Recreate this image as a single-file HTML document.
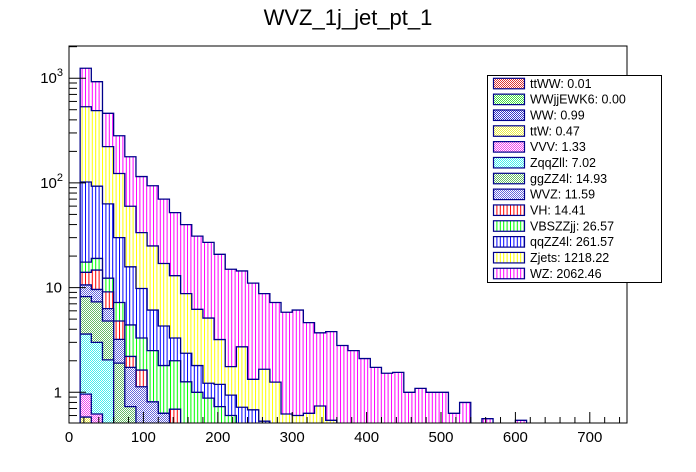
<!DOCTYPE html>
<html><head><meta charset="utf-8"><style>
html,body{margin:0;padding:0;background:#fff;}
svg{display:block;font-family:"Liberation Sans",Arial,sans-serif;}
</style></head><body>
<svg id="chart" width="696" height="472" viewBox="0 0 696 472" xmlns="http://www.w3.org/2000/svg">
<defs>
  <pattern id="vh-WZ" width="3.4" height="4" patternUnits="userSpaceOnUse"><rect width="3.4" height="4" fill="#fff"/><rect x="0" width="1" height="4" fill="#ff00ff"/></pattern>
  <pattern id="vh-Zjets" width="3.4" height="4" patternUnits="userSpaceOnUse"><rect width="3.4" height="4" fill="#fff"/><rect x="0" width="1" height="4" fill="#ffff00"/></pattern>
  <pattern id="vh-qqZZ4l" width="3.4" height="4" patternUnits="userSpaceOnUse"><rect width="3.4" height="4" fill="#fff"/><rect x="0" width="1" height="4" fill="#0000ff"/></pattern>
  <pattern id="vh-VBSZZjj" width="3.4" height="4" patternUnits="userSpaceOnUse"><rect width="3.4" height="4" fill="#fff"/><rect x="0" width="1" height="4" fill="#00ff00"/></pattern>
  <pattern id="vh-VH" width="3.4" height="4" patternUnits="userSpaceOnUse"><rect width="3.4" height="4" fill="#fff"/><rect x="0" width="1" height="4" fill="#ff0000"/></pattern>
  <pattern id="ck-WVZ" width="2" height="2" patternUnits="userSpaceOnUse"><rect width="2" height="2" fill="#fff"/><rect width="1" height="1" fill="#6666dd"/><rect x="1" y="1" width="1" height="1" fill="#6666dd"/></pattern>
  <pattern id="ck-ggZZ4l" width="2" height="2" patternUnits="userSpaceOnUse"><rect width="2" height="2" fill="#fff"/><rect width="1" height="1" fill="#66bb66"/><rect x="1" y="1" width="1" height="1" fill="#66bb66"/></pattern>
  <pattern id="ck-ZqqZll" width="2" height="2" patternUnits="userSpaceOnUse"><rect width="2" height="2" fill="#fff"/><rect width="1" height="1" fill="#44eeee"/><rect x="1" y="1" width="1" height="1" fill="#44eeee"/></pattern>
  <pattern id="ck-VVV" width="2" height="2" patternUnits="userSpaceOnUse"><rect width="2" height="2" fill="#fff"/><rect width="1" height="1" fill="#ee44ee"/><rect x="1" y="1" width="1" height="1" fill="#ee44ee"/></pattern>
  <pattern id="ck-ttW" width="2" height="2" patternUnits="userSpaceOnUse"><rect width="2" height="2" fill="#fff"/><rect width="1" height="1" fill="#eeee44"/><rect x="1" y="1" width="1" height="1" fill="#eeee44"/></pattern>
  <pattern id="ck-WW" width="2" height="2" patternUnits="userSpaceOnUse"><rect width="2" height="2" fill="#fff"/><rect width="1" height="1" fill="#3333cc"/><rect x="1" y="1" width="1" height="1" fill="#3333cc"/></pattern>
  <pattern id="ck-WWjjEWK6" width="2" height="2" patternUnits="userSpaceOnUse"><rect width="2" height="2" fill="#fff"/><rect width="1" height="1" fill="#44dd44"/><rect x="1" y="1" width="1" height="1" fill="#44dd44"/></pattern>
  <pattern id="ck-ttWW" width="2" height="2" patternUnits="userSpaceOnUse"><rect width="2" height="2" fill="#fff"/><rect width="1" height="1" fill="#dd3333"/><rect x="1" y="1" width="1" height="1" fill="#dd3333"/></pattern>
  <clipPath id="plotclip"><rect x="69" y="46" width="558" height="377"/></clipPath>
</defs>
<text x="348" y="25" font-size="22" text-anchor="middle">WVZ_1j_jet_pt_1</text>
<g id="bars" clip-path="url(#plotclip)"></g>
<rect x="69" y="46" width="558" height="377" fill="none" stroke="#000" stroke-width="1"/>
<g id="axes"></g>
<g id="legend"></g>
</svg>
<script>
// bins: low edges 15,30,...,600 (width 15)
const binStart = 15;
const binWidth = 15;
const nBins = 40;
// stack order bottom -> top
const seriesNames = ["ttWW","WWjjEWK6","WW","ttW","VVV","ZqqZll","ggZZ4l","WVZ","VH","VBSZZjj","qqZZ4l","Zjets","WZ"];
const legendLabels = ["ttWW: 0.01","WWjjEWK6: 0.00","WW: 0.99","ttW: 0.47","VVV: 1.33","ZqqZll: 7.02","ggZZ4l: 14.93","WVZ: 11.59","VH: 14.41","VBSZZjj: 26.57","qqZZ4l: 261.57","Zjets: 1218.22","WZ: 2062.46"];
const ttWW = [];
const WWjjEWK6 = [];
const WW = [];
const ttW = [0.58];
const VVV = [0.38, 0.62];
const ZqqZll = [2.64, 2.38, 2.04];
const ggZZ4l = [4.6, 4.3, 2.76, 1.9, 0.73];
const WVZ = [2.4, 2.3, 1.5, 1.3, 1.0, 1.13, 0.81, 0.63];
const VH = [3.4, 5.1, 2.8, 1.6, 0.47, 0.5, 0, 0, 0.69];
const VBSZZjj = [3.5, 4.3, 3.2, 2.4, 2.2, 1.67, 1.69, 1.17, 1.31, 1.26, 1.0, 0.88, 0.73, 0.6];
const qqZZ4l = [84.5, 74, 50.7, 22.8, 11.4, 6.5, 3.6, 2.5, 1.3, 1.1, 0.8, 0.34, 0.46, 0.34, 0.72, 0.68, 0.53];
const Zjets = [432, 397, 159, 93, 44, 23.7, 18.9, 12.7, 9.7, 6.4, 4.4, 3.9, 2.0, 0.82, 2.0, 0.65, 1.13, 1.25, 0.62, 0.6, 0.63, 0.74, 0.54];
const WZ = [711, 436, 240, 159, 118, 81.5, 69, 53, 39, 31.2, 24.8, 21.9, 17.6, 13.2, 11.7, 9.7, 7.1, 5.95, 5.2, 5.5, 4.0, 2.96, 3.26, 2.8, 2.5, 2.1, 1.73, 1.52, 1.55, 1.0, 1.09, 1.0, 1.0, 0.63, 0.8, 0, 0.56, 0, 0, 0.54];
const xTicks = [0,100,200,300,400,500,600,700];
const yDecades = [1,10,100,1000];

const seriesData = [ttWW,WWjjEWK6,WW,ttW,VVV,ZqqZll,ggZZ4l,WVZ,VH,VBSZZjj,qqZZ4l,Zjets,WZ];
const fills = ["ck-ttWW","ck-WWjjEWK6","ck-WW","ck-ttW","ck-VVV","ck-ZqqZll","ck-ggZZ4l","ck-WVZ","vh-VH","vh-VBSZZjj","vh-qqZZ4l","vh-Zjets","vh-WZ"];
const NS = "http://www.w3.org/2000/svg";
const X0=69, X1=627, Y0=46, Y1=423;
function xs(v){ return X0 + v/750*(X1-X0); }
function ys(v){ if(v<=0) return Y1+2; const y = 392.3 - 104.7*Math.log10(v); return Math.min(Y1+2, Math.max(Y0-2, y)); }
function mk(tag, attrs){ const e=document.createElementNS(NS,tag); for(const k in attrs) e.setAttribute(k,attrs[k]); return e; }

const cum = [];
for(let k=0;k<seriesData.length;k++){
  cum.push([]);
  for(let i=0;i<nBins;i++){
    const v = seriesData[k][i]||0;
    cum[k].push((k>0?cum[k-1][i]:0)+v);
  }
}
const bars = document.getElementById('bars');
for(let k=seriesData.length-1;k>=0;k--){
  let tot = cum[k].reduce((a,b)=>a+b,0);
  if(tot<=0) continue;
  let d = "M"+xs(binStart)+","+(Y1+2);
  for(let i=0;i<nBins;i++){
    const xl = xs(binStart+i*binWidth), xr = xs(binStart+(i+1)*binWidth);
    const y = ys(cum[k][i]);
    d += " L"+xl+","+y+" L"+xr+","+y;
  }
  d += " L"+xs(binStart+nBins*binWidth)+","+(Y1+2)+" Z";
  const p = mk('path',{d:d, fill:"url(#"+fills[k]+")", stroke:"#00008b", "stroke-width":"1.3"});
  
  
  bars.appendChild(p);
}

const axes = document.getElementById('axes');
for(let v=0; v<=750; v+=20){
  const major = v%100===0;
  const t = mk('line',{x1:xs(v),x2:xs(v),y1:Y1,y2:Y1-(major?11:6),stroke:"#000","stroke-width":"1"});
  
  
  axes.appendChild(t);
}
xTicks.forEach(v=>{
  const t = mk('text',{x:xs(v),y:442,"font-size":"15","text-anchor":"middle"});
  t.textContent = v;
  
  
  axes.appendChild(t);
});
for(let e=-1;e<=3;e++){
  for(let m=1;m<=9;m++){
    const v = m*Math.pow(10,e);
    const y = 392.3 - 104.7*Math.log10(v);
    if(y<Y0||y>Y1) continue;
    const t = mk('line',{x1:X0,x2:X0+(m===1?17:8),y1:y,y2:y,stroke:"#000","stroke-width":"1"});
    
    
    axes.appendChild(t);
  }
}
yDecades.forEach(v=>{
  const y = 392.3 - 104.7*Math.log10(v);
  const t = mk('text',{x:62,y:y+5,"font-size":"15","text-anchor":"end"});
  if(v>=100){
    t.textContent = "10";
    const s = mk('tspan',{dy:"-7","font-size":"11"});
    s.textContent = String(Math.round(Math.log10(v)));
    t.appendChild(s);
    t.setAttribute('x', 63);
  } else {
    t.textContent = String(v);
  }
  
  
  axes.appendChild(t);
});

const lg = document.getElementById('legend');
const box = mk('rect',{x:487.5,y:75.5,width:174,height:207,fill:"#fff",stroke:"#000","stroke-width":"1"});


lg.appendChild(box);
for(let r=0;r<13;r++){
  const yc = 83.3 + r*15.83;
  const g = mk('g',{});
  
  
  const sw = mk('rect',{x:493.5,y:yc-5,width:31,height:10.5,fill:"url(#"+fills[r]+")",stroke:"#00008b","stroke-width":"1.2"});
  
  
  const tx = mk('text',{x:530,y:yc+4.5,"font-size":"12.5"});
  tx.textContent = legendLabels[r];
  
  
  g.appendChild(sw); g.appendChild(tx);
  lg.appendChild(g);
}
</script>
</body></html>
